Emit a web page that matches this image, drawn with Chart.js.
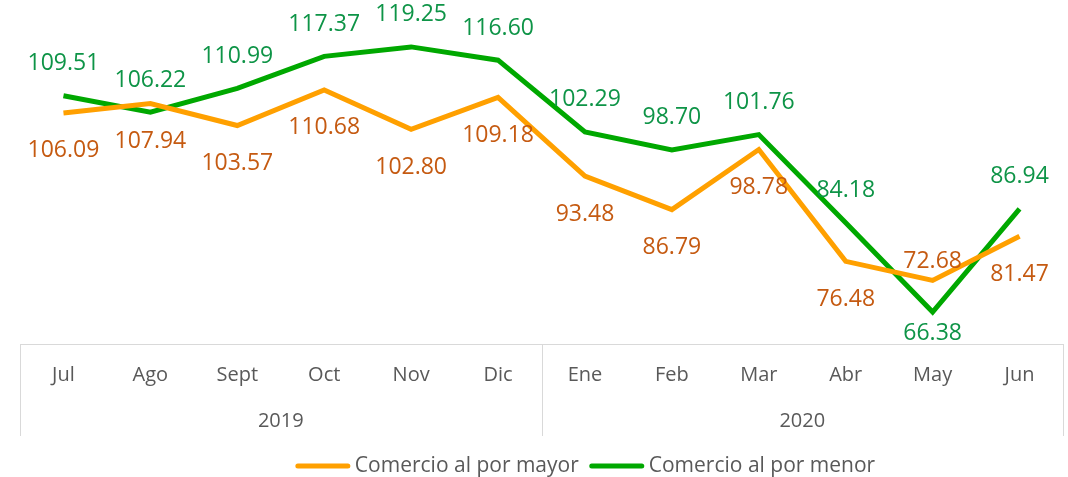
<!DOCTYPE html>
<html>
<head>
<meta charset="utf-8">
<script src="https://cdn.jsdelivr.net/npm/chart.js@4"></script>
<style>
  html, body { margin: 0; padding: 0; background: #fff; overflow: hidden; }
  #wrap { position: absolute; left: 0; top: -7px; width: 1068px; height: 484px; }
</style>
</head>
<body>
<div id="wrap"><canvas id="chart"></canvas></div>
<script>
// Datos
const meses = ['Jul', 'Ago', 'Sept', 'Oct', 'Nov', 'Dic', 'Ene', 'Feb', 'Mar', 'Abr', 'May', 'Jun'];
const anios = ['2019', '2020'];
const porMayor = [106.09, 107.94, 103.57, 110.68, 102.80, 109.18, 93.48, 86.79, 98.78, 76.48, 72.68, 81.47];
const porMenor = [109.51, 106.22, 110.99, 117.37, 119.25, 116.60, 102.29, 98.70, 101.76, 84.18, 66.38, 86.94];

// desplazamiento vertical de cada etiqueta (px, negativo = arriba)
const despMayor = [38, 38, 38, 38, 38, 38, 38, 38, 38, 38, -19, 38];
const despMenor = [-32, -32, -32, -32, -32, -32, -32, -32, -32, -32, 21, -32];

const FONT = '"Open Sans", "Noto Sans", sans-serif';
const GRIS = '#595959';

// Etiquetas de valores
const etiquetas = {
    id: 'etiquetas',
    afterDatasetsDraw(chart) {
        const ctx = chart.ctx;
        ctx.save();
        ctx.font = '23px ' + FONT;
        ctx.textAlign = 'center';
        ctx.textBaseline = 'middle';
        chart.data.datasets.forEach((ds, i) => {
            const meta = chart.getDatasetMeta(i);
            meta.data.forEach((pt, j) => {
                ctx.fillStyle = ds.labelColor;
                ctx.fillText(ds.data[j].toFixed(2), pt.x, pt.y + ds.labelOffset[j]);
            });
        });
        ctx.restore();
    }
};

// Separadores del eje de categorías
const separadores = {
    id: 'separadores',
    afterDraw(chart) {
        const x = chart.scales.x;
        const x2 = chart.scales.x2;
        const ctx = chart.ctx;
        const mid = (x.getPixelForValue(5) + x.getPixelForValue(6)) / 2;
        ctx.save();
        ctx.strokeStyle = '#d9d9d9';
        ctx.lineWidth = 1;
        [chart.chartArea.left, mid, chart.chartArea.right].forEach(px => {
            const p = Math.round(px) + 0.5;
            ctx.beginPath();
            ctx.moveTo(p, x.top);
            ctx.lineTo(p, x2.bottom);
            ctx.stroke();
        });
        ctx.restore();
    }
};

// Leyenda (dibujada a mano para ubicarla como en el original)
const leyenda = {
    id: 'leyenda',
    afterDraw(chart) {
        const ctx = chart.ctx;
        const ca = chart.chartArea;
        ctx.save();
        ctx.font = '21px ' + FONT;
        ctx.textBaseline = 'middle';
        const seg = 54, gapTxt = 5, gapItem = 11;
        const items = chart.data.datasets.map(ds => ({
            text: ds.label,
            color: ds.borderColor,
            w: seg + gapTxt + ctx.measureText(ds.label).width
        }));
        const total = items.reduce((s, it) => s + it.w, 0) + gapItem * (items.length - 1);
        let cx = (ca.left + ca.right) / 2 + 44 - total / 2;
        const cy = chart.height - 11;
        items.forEach(it => {
            ctx.strokeStyle = it.color;
            ctx.lineWidth = 5;
            ctx.lineCap = 'round';
            ctx.beginPath();
            ctx.moveTo(cx + 2, cy);
            ctx.lineTo(cx + seg - 2, cy);
            ctx.stroke();
            ctx.fillStyle = GRIS;
            ctx.fillText(it.text, cx + seg + gapTxt, cy);
            cx += it.w + gapItem;
        });
        ctx.restore();
    }
};

new Chart(document.getElementById('chart'), {
    type: 'line',
    data: {
        labels: meses,
        datasets: [{
            label: 'Comercio al por mayor',
            data: porMayor,
            borderColor: '#ffa000',
            backgroundColor: '#ffa000',
            borderWidth: 5,
            pointRadius: 0,
            tension: 0,
            labelColor: '#c55a11',
            labelOffset: despMayor
        }, {
            label: 'Comercio al por menor',
            data: porMenor,
            borderColor: '#00a800',
            backgroundColor: '#00a800',
            borderWidth: 5,
            pointRadius: 0,
            tension: 0,
            labelColor: '#0e9447',
            labelOffset: despMenor
        }]
    },
    options: {
        responsive: true,
        maintainAspectRatio: false,
        animation: false,
        layout: { padding: { left: 20, right: 5, top: 0, bottom: 41 } },
        plugins: {
            tooltip: { enabled: false },
            legend: { display: false }
        },
        scales: {
            y: {
                display: false,
                min: 60,
                max: 130
            },
            x: {
                offset: true,
                grid: { display: false, drawTicks: false },
                border: { display: true, color: '#d9d9d9', width: 1 },
                ticks: {
                    color: GRIS,
                    font: { family: FONT, size: 20 },
                    padding: 19,
                    maxRotation: 0
                }
            },
            x2: {
                type: 'category',
                position: 'bottom',
                labels: anios,
                offset: true,
                weight: 1,
                grid: { display: false, drawTicks: false },
                border: { display: false },
                ticks: {
                    color: GRIS,
                    font: { family: FONT, size: 20 },
                    padding: 3,
                    maxRotation: 0
                }
            }
        }
    },
    plugins: [etiquetas, separadores, leyenda]
});
</script>
</body>
</html>
